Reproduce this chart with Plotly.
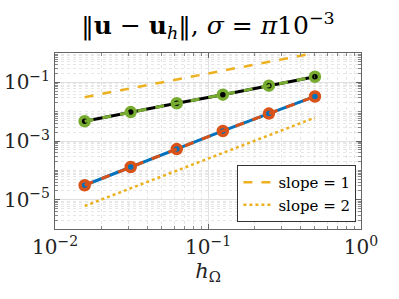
import plotly.graph_objects as go

h = [1/64, 1/32, 1/16, 1/8, 1/4, 1/2]
err_a = [0.0047, 0.0097, 0.0193, 0.038, 0.077, 0.155]   # black / green
err_b = [3.1e-5, 1.3e-4, 5.3e-4, 2.2e-3, 8.6e-3, 0.033]  # blue / orange
ref_x = [1/64, 1/2]
ref1_y = [0.03125, 1.0]
ref2_y = [6.1e-6, 6.25e-3]

BLUE = "#0072BD"
ORANGE = "#D95319"
YELLOW = "#EDB120"
GREEN = "#77AC30"
FONT = "DejaVu Serif, serif"

fig = go.Figure()
fig.add_trace(go.Scatter(x=h, y=err_a, mode="lines+markers", showlegend=False,
                         line=dict(color="black", width=3),
                         marker=dict(symbol="square", size=8, color="black")))
fig.add_trace(go.Scatter(x=h, y=err_a, mode="lines+markers", showlegend=False,
                         line=dict(color=GREEN, width=3, dash="dash"),
                         marker=dict(symbol="circle-open", size=9, color=GREEN, line=dict(width=3.5, color=GREEN))))
fig.add_trace(go.Scatter(x=h, y=err_b, mode="lines+markers", showlegend=False,
                         line=dict(color=BLUE, width=3),
                         marker=dict(symbol="square", size=8, color=BLUE)))
fig.add_trace(go.Scatter(x=h, y=err_b, mode="lines+markers", showlegend=False,
                         line=dict(color=ORANGE, width=3, dash="dash"),
                         marker=dict(symbol="circle-open", size=9, color=ORANGE, line=dict(width=3.5, color=ORANGE))))
fig.add_trace(go.Scatter(x=ref_x, y=ref1_y, mode="lines", name="slope = 1",
                         line=dict(color=YELLOW, width=2.5, dash="dash")))
fig.add_trace(go.Scatter(x=ref_x, y=ref2_y, mode="lines", name="slope = 2",
                         line=dict(color=YELLOW, width=2.5, dash="dot")))

minor_x = [m * 10**k for k in (-2, -1) for m in range(2, 10)]
minor_y = [m * 10**k for k in range(-6, 0) for m in range(1, 10) if not (m == 1 and k in (-5, -3, -1))]

axis_common = dict(type="log", showline=True, linecolor="#666", linewidth=1, mirror="ticks",
                   ticks="inside", ticklen=5, tickcolor="#666", automargin=False,
                   showgrid=True, gridcolor="#e0e0e0", gridwidth=1, zeroline=False,
                   tickfont=dict(family=FONT, size=20, color="#222"))

fig.update_xaxes(**axis_common, range=[-2, 0],
                 tickvals=[0.01, 0.1, 1],
                 ticktext=["10<sup>−2</sup>", "10<sup>−1</sup>", "10<sup>0</sup>"],
                 minor=dict(tickvals=minor_x, ticks="inside", ticklen=3, tickcolor="#888",
                            showgrid=True, gridcolor="#e6e6e6", griddash="dot", gridwidth=1),
                 title=dict(text="<i>h</i><sub>Ω</sub>", font=dict(family=FONT, size=21, color="#222"), standoff=4))
fig.update_yaxes(**axis_common, range=[-6, 0],
                 tickvals=[1e-5, 1e-3, 1e-1],
                 ticktext=["10<sup>−5</sup>", "10<sup>−3</sup>", "10<sup>−1</sup>"],
                 minor=dict(tickvals=minor_y, ticks="inside", ticklen=3, tickcolor="#888",
                            showgrid=True, gridcolor="#e6e6e6", griddash="dot", gridwidth=1))

fig.update_layout(
    width=399, height=299,
    margin=dict(l=55, r=38, t=53, b=70),
    paper_bgcolor="white", plot_bgcolor="white",
    title=dict(text="‖<b>u</b> − <b>u</b><sub><i>h</i></sub>‖, <i>σ</i> = <i>π</i>10<sup>−3</sup>",
               x=0.5, xref="paper", xanchor="center", y=0.915, yanchor="middle",
               font=dict(family=FONT, size=25, color="black")),
    legend=dict(x=0.985, y=0.04, xanchor="right", yanchor="bottom",
                bgcolor="white", bordercolor="#333", borderwidth=1,
                font=dict(family=FONT, size=15, color="black"),
                itemwidth=30, tracegroupgap=0),
)

fig.write_html("out.html", config={"displayModeBar": False},
               post_script="document.body.style.margin='0';document.body.style.overflow='hidden';")
